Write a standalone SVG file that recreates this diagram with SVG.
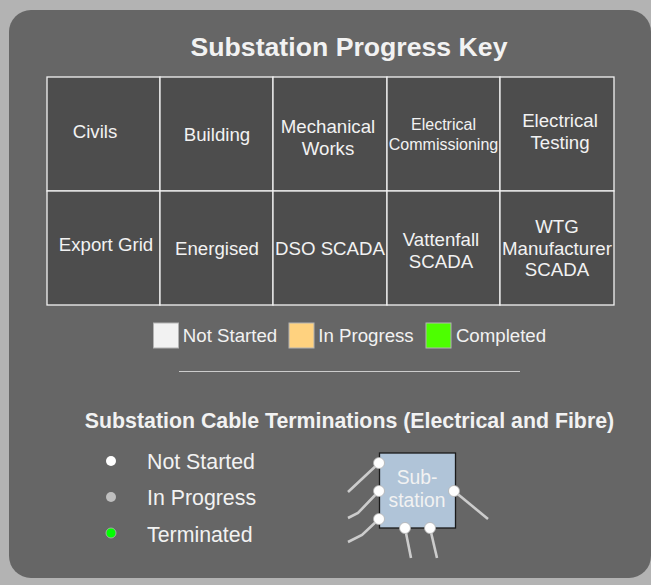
<svg xmlns="http://www.w3.org/2000/svg" width="651" height="585" viewBox="0 0 651 585">
<style>
text{font-family:"Liberation Sans",Arial,sans-serif;fill:#f2f2f2;text-anchor:middle}
.c{font-size:18.67px}
.s{font-size:16px}
.b{font-weight:bold}
.cell{fill:#4d4d4d;stroke:#f2f2f2;stroke-width:1.3}
.sw{stroke:#b3b3b3;stroke-width:1}
.cable{fill:none;stroke:#cccccc;stroke-width:2.6}
.port{fill:#fff;stroke:#b3b3b3;stroke-width:.8}
.l{text-anchor:start;font-size:21.33px}
</style>
<rect width="651" height="585" fill="#b3b3b3"/>
<rect x="9" y="10" width="642" height="568" rx="22" fill="#666666"/>
<text class="b" x="349" y="55.500" font-size="26.670">Substation Progress Key</text>
<g id="civils"><rect class="cell" x="47" y="77" width="113" height="114"/><text class="c" x="95" y="138">Civils</text></g>
<g id="building"><rect class="cell" x="160" y="77" width="113" height="114"/><text class="c" x="217" y="141">Building</text></g>
<g id="mechanical"><rect class="cell" x="273" y="77" width="114" height="114"/><text class="c" x="328" y="133">Mechanical</text><text class="c" x="328" y="155">Works</text></g>
<g id="electrical-comm"><rect class="cell" x="387" y="77" width="113" height="114"/><text class="s" x="443.500" y="130">Electrical</text><text class="s" x="443.500" y="150">Commissioning</text></g>
<g id="electrical-test"><rect class="cell" x="500" y="77" width="114" height="114"/><text class="c" x="560" y="127">Electrical</text><text class="c" x="560" y="149">Testing</text></g>
<g id="export"><rect class="cell" x="47" y="191" width="113" height="114"/><text class="c" x="106" y="251">Export Grid</text></g>
<g id="energised"><rect class="cell" x="160" y="191" width="113" height="114"/><text class="c" x="217" y="255">Energised</text></g>
<g id="dso"><rect class="cell" x="273" y="191" width="114" height="114"/><text class="c" x="330" y="255">DSO SCADA</text></g>
<g id="vattenfall"><rect class="cell" x="387" y="191" width="113" height="114"/><text class="c" x="441" y="246">Vattenfall</text><text class="c" x="441" y="268">SCADA</text></g>
<g id="wtg"><rect class="cell" x="500" y="191" width="114" height="114"/><text class="c" x="557" y="233">WTG</text><text class="c" x="557" y="255">Manufacturer</text><text class="c" x="557" y="276">SCADA</text></g>
<g id="key-not-started"><rect class="sw" x="153.500" y="323" width="25" height="25" fill="#f2f2f2"/><text class="c" x="230" y="342">Not Started</text></g>
<g id="key-in-progress"><rect class="sw" x="289" y="323" width="25" height="25" fill="#ffd27f"/><text class="c" x="366" y="342">In Progress</text></g>
<g id="key-completed"><rect class="sw" x="426" y="323" width="25" height="25" fill="#4dff00"/><text class="c" x="501" y="342">Completed</text></g>
<line x1="179" y1="371.500" x2="520" y2="371.500" stroke="#cccccc" stroke-width="1.200"/>
<text class="b" x="349.500" y="428" font-size="21.330">Substation Cable Terminations (Electrical and Fibre)</text>
<g id="dot-not-started"><circle cx="111" cy="461" r="5" fill="#fff"/><text class="l" x="147" y="469">Not Started</text></g>
<g id="dot-in-progress"><circle cx="111" cy="497" r="5" fill="#bfbfbf"/><text class="l" x="147" y="505">In Progress</text></g>
<g id="dot-terminated"><circle cx="111" cy="533" r="5" fill="#00ff00" stroke="#b3b3b3" stroke-width=".8"/><text class="l" x="147" y="542">Terminated</text></g>
<g id="connectors">
<path class="cable" d="M379 463L348 492"/>
<path class="cable" d="M379 491L358 513L348 518"/>
<path class="cable" d="M379 519L362 535L348 542"/>
<path class="cable" d="M405 528L411 558"/>
<path class="cable" d="M430 528L437 558"/>
<path class="cable" d="M454 491L488 519"/>
</g>
<g id="substation">
<rect x="379.500" y="453" width="76" height="75" fill="#b0c4d8" stroke="#1a1a1a" stroke-width="1.300"/>
<text x="417" y="484" font-size="19.300">Sub-</text>
<text x="417" y="507" font-size="19.300">station</text>
<circle class="port" cx="379" cy="463" r="5.500"/>
<circle class="port" cx="379" cy="491" r="5.500"/>
<circle class="port" cx="379" cy="519" r="5.500"/>
<circle class="port" cx="405" cy="528" r="5.500"/>
<circle class="port" cx="430" cy="528" r="5.500"/>
<circle class="port" cx="454" cy="491" r="5.500"/>
</g>
</svg>
